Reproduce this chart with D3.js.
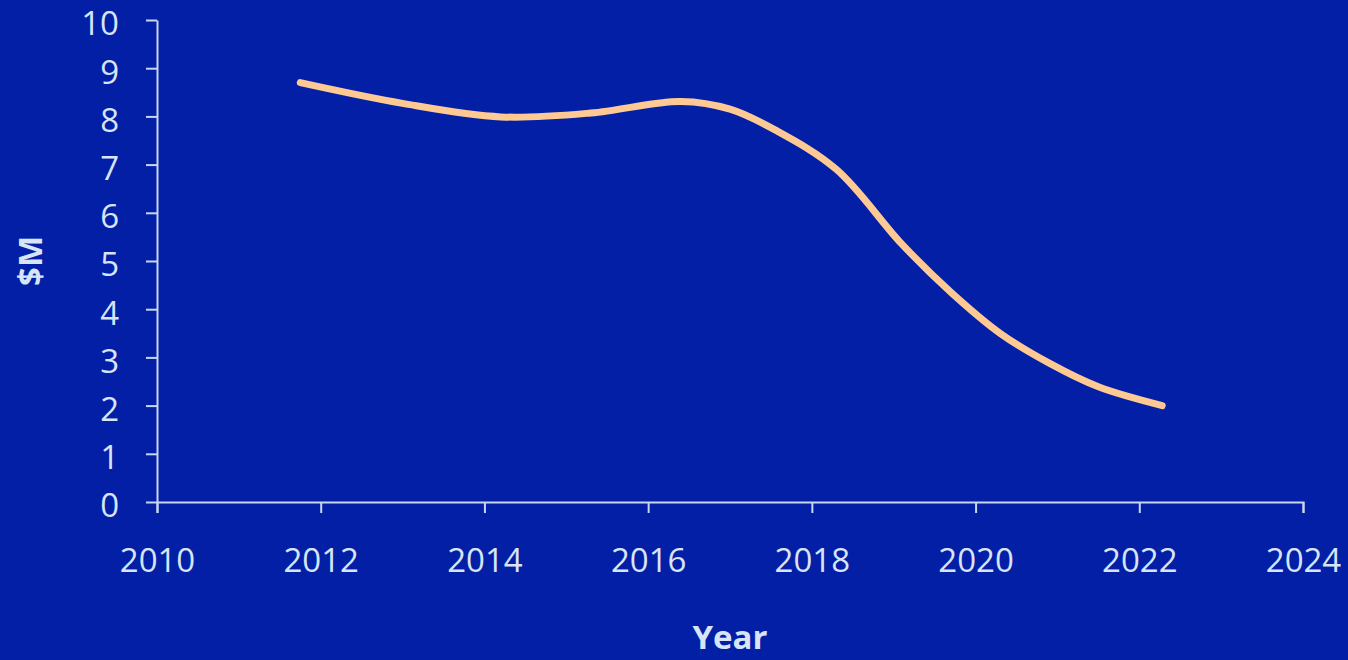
<!DOCTYPE html>
<html>
<head>
<meta charset="utf-8">
<script src="https://cdn.jsdelivr.net/npm/d3@7"></script>
<style>
  html, body { margin: 0; padding: 0; background: #031fa6; }
  svg { display: block; }
  .axis path, .axis line { stroke: #c9d6f0; stroke-width: 2; }
  .axis text { fill: #d8e4f7; font-family: "Open Sans", sans-serif; font-size: 33px; }
  .axisTitle { fill: #d8e4f7; font-family: "Open Sans", sans-serif; font-size: 33px; font-weight: bold; }
</style>
</head>
<body>
<script>
// Data (smoothed line through these points)
var years = [2011.75, 2013.0, 2014.2, 2015.3, 2016.4, 2017.0, 2017.55, 2018.3, 2019.1, 2019.7, 2020.3, 2020.9, 2021.5, 2022.28];
var values = [8.70, 8.27, 7.99, 8.07, 8.31, 8.15, 7.72, 6.90, 5.35, 4.35, 3.50, 2.88, 2.39, 2.00];
var xTicks = [2010, 2012, 2014, 2016, 2018, 2020, 2022, 2024];
var yTicks = [0, 1, 2, 3, 4, 5, 6, 7, 8, 9, 10];

var svgWidth = 1348;
var svgHeight = 660;

var margin = { top: 20, right: 45, bottom: 158, left: 157 };
var width = svgWidth - margin.left - margin.right;
var height = svgHeight - margin.top - margin.bottom;

var svg = d3.select("body")
  .append("svg")
  .attr("width", svgWidth)
  .attr("height", svgHeight);

svg.append("rect")
  .attr("width", svgWidth)
  .attr("height", svgHeight)
  .attr("fill", "#031fa6");

var chartGroup = svg.append("g")
  .attr("transform", `translate(${margin.left}, ${margin.top})`);

var xScale = d3.scaleLinear().domain([2010, 2024]).range([0, width]);
var yScale = d3.scaleLinear().domain([0, 10]).range([height, 0]);

var bottomAxis = d3.axisBottom(xScale)
  .tickValues(xTicks)
  .tickFormat(d3.format("d"))
  .tickSizeInner(11)
  .tickSizeOuter(11)
  .tickPadding(36);

var leftAxis = d3.axisLeft(yScale)
  .tickValues(yTicks)
  .tickSizeInner(11)
  .tickSizeOuter(0)
  .tickPadding(27);

chartGroup.append("g")
  .attr("class", "axis")
  .call(leftAxis)
  .selectAll("text")
  .attr("dy", "0.45em");

chartGroup.append("g")
  .attr("class", "axis")
  .attr("transform", `translate(0, ${height})`)
  .call(bottomAxis);

// Line
var points = years.map(function (y, i) { return { year: y, value: values[i] }; });

var line = d3.line()
  .x(d => xScale(d.year))
  .y(d => yScale(d.value))
  .curve(d3.curveCatmullRom.alpha(0.5));

chartGroup.append("path")
  .datum(points)
  .attr("d", line)
  .attr("fill", "none")
  .attr("stroke", "#ffc994")
  .attr("stroke-width", 7)
  .attr("stroke-linecap", "round")
  .attr("stroke-linejoin", "round");

// Axis titles
chartGroup.append("text")
  .attr("class", "axisTitle")
  .attr("transform", `translate(${-margin.left + 42}, ${height / 2}) rotate(-90)`)
  .attr("text-anchor", "middle")
  .text("$M");

chartGroup.append("text")
  .attr("class", "axisTitle")
  .attr("x", width / 2)
  .attr("y", height + 147)
  .attr("text-anchor", "middle")
  .text("Year");
</script>
</body>
</html>
